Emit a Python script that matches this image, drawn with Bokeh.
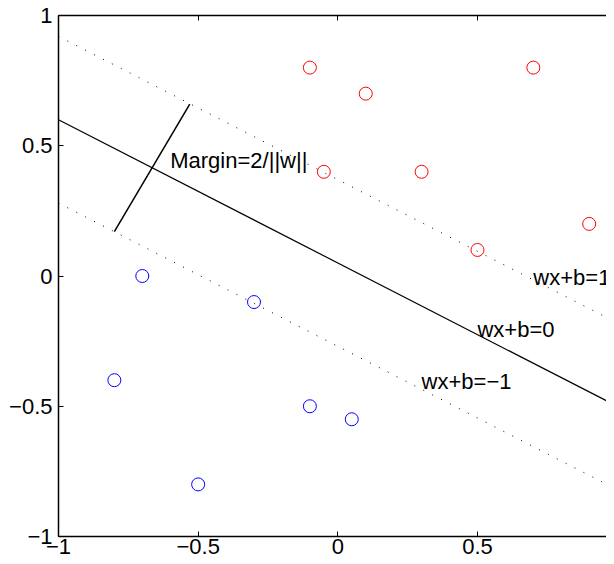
from bokeh.plotting import figure
from bokeh.models import Range1d, FixedTicker, LinearAxis, CustomJSTickFormatter
from bokeh.core.properties import value
from bokeh.embed import file_html
from bokeh.resources import INLINE

# class +1 samples (red)
pos_x = [-0.1, 0.1, 0.7, -0.05, 0.3, 0.9, 0.5]
pos_y = [0.8, 0.7, 0.8, 0.4, 0.4, 0.2, 0.1]
# class -1 samples (blue)
neg_x = [-0.7, -0.3, -0.8, -0.1, 0.05, -0.5]
neg_y = [0.0, -0.1, -0.4, -0.5, -0.55, -0.8]

# separating hyperplane and margins (endpoints at x=-1 and x=1)
line_x = [-1.0, 1.0]
hyper_y = [0.6, -0.5]
upper_y = [0.92, -0.18]
lower_y = [0.28, -0.82]

# margin segment
margin_x = [-0.8, -0.53]
margin_y = [0.17, 0.66]

# annotations
label_text = ["Margin=2/||w||", "wx+b=1", "wx+b=0", "wx+b=\u22121"]
label_x = [-0.6, 0.7, 0.5, 0.3]
label_y = [0.445, -0.005, -0.205, -0.405]

ticks = [-1, -0.5, 0, 0.5, 1]

FONT = "Liberation Sans"
FS = "22px"

p = figure(width=606, height=556, output_backend="svg", toolbar_location=None,
           x_range=Range1d(-1, 0.962), y_range=Range1d(-1, 1),
           min_border_left=58, min_border_right=0, min_border_top=15, min_border_bottom=20)
p.grid.visible = False
p.outline_line_color = None
p.background_fill_color = "white"
p.border_fill_color = "white"

fmt = CustomJSTickFormatter(code="return (tick < 0 ? '\\u2212' : '') + Math.abs(tick).toString();")

for ax in (p.xaxis[0], p.yaxis[0]):
    ax.ticker = FixedTicker(ticks=ticks)
    ax.formatter = fmt
    ax.major_tick_in = 5
    ax.major_tick_out = 0
    ax.minor_tick_line_color = None
    ax.axis_line_width = 1.5
    ax.axis_line_color = "black"
    ax.major_tick_line_color = "black"
    ax.major_label_text_font = FONT
    ax.major_label_text_font_size = FS
    ax.major_label_text_color = "black"
p.yaxis[0].major_label_standoff = 6
p.xaxis[0].major_label_standoff = 2

top = LinearAxis(ticker=FixedTicker(ticks=ticks), major_tick_in=5, major_tick_out=0,
                 minor_tick_line_color=None, axis_line_width=1.5, axis_line_color="black",
                 major_tick_line_color="black",
                 formatter=CustomJSTickFormatter(code="return '';"), major_label_standoff=0)
p.add_layout(top, "above")

p.line(line_x, hyper_y, line_color="black", line_width=1.2)
p.line(line_x, upper_y, line_color="black", line_width=1, line_dash="1 9")
p.line(line_x, lower_y, line_color="black", line_width=1, line_dash="1 9")
p.line(margin_x, margin_y, line_color="black", line_width=1.5)

p.scatter(pos_x, pos_y, marker="circle", size=13, fill_color=None, line_color="red", line_width=1)
p.scatter(neg_x, neg_y, marker="circle", size=13, fill_color=None, line_color="blue", line_width=1)

p.text(label_x, label_y, text=label_text, text_font=value(FONT), text_font_size=FS,
       text_color="black", text_baseline="alphabetic", text_align="left")

open("out.html", "w").write(file_html(p, INLINE))
